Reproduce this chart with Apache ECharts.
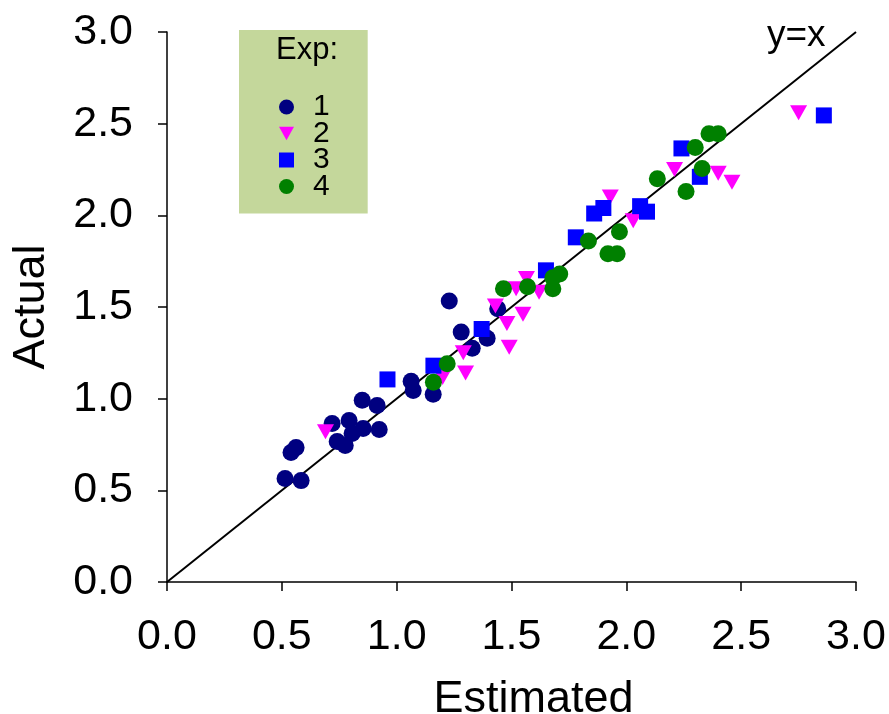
<!DOCTYPE html>
<html>
<head>
<meta charset="utf-8">
<title>Actual vs Estimated</title>
<script src="https://cdn.jsdelivr.net/npm/echarts@6/dist/echarts.min.js"></script>
<style>
  html, body { margin: 0; padding: 0; background: #fff; }
  #chart { width: 889px; height: 714px; }
</style>
</head>
<body>
<div id="chart"></div>
<script>
// data: [estimated, actual]
var exp1 = [
  [0.514, 0.564], [0.584, 0.553], [0.540, 0.706], [0.562, 0.733], [0.719, 0.865],
  [0.793, 0.881], [0.741, 0.766], [0.776, 0.744], [0.806, 0.810], [0.850, 0.991],
  [0.915, 0.963], [0.854, 0.837], [0.924, 0.832], [1.063, 1.095], [1.072, 1.045],
  [1.159, 1.024], [1.229, 1.533], [1.281, 1.363], [1.329, 1.275], [1.394, 1.330],
  [1.440, 1.490]
];
var exp2 = [
  [0.690, 0.820], [1.200, 1.115], [1.290, 1.250], [1.300, 1.140], [1.430, 1.505],
  [1.480, 1.410], [1.550, 1.460], [1.490, 1.280], [1.565, 1.655], [1.520, 1.600],
  [1.620, 1.580], [1.930, 2.100], [2.030, 1.970], [2.210, 2.250], [2.400, 2.230],
  [2.460, 2.180], [2.750, 2.560]
];
var exp3 = [
  [0.960, 1.105], [1.160, 1.180], [1.370, 1.380], [1.650, 1.700], [1.780, 1.880],
  [1.860, 2.010], [1.900, 2.040], [2.060, 2.050], [2.090, 2.020], [2.240, 2.365],
  [2.320, 2.210], [2.860, 2.545]
];
var exp4 = [
  [1.160, 1.090], [1.220, 1.190], [1.465, 1.600], [1.570, 1.610], [1.680, 1.660],
  [1.710, 1.680], [1.680, 1.600], [1.835, 1.860], [1.920, 1.790], [1.960, 1.790],
  [1.970, 1.910], [2.135, 2.200], [2.260, 2.130], [2.300, 2.370], [2.330, 2.255],
  [2.360, 2.445], [2.400, 2.445]
];
var identityLine = [[0, 0], [3, 3]];
var tickValues = [0, 0.5, 1.0, 1.5, 2.0, 2.5, 3.0];

var font = 'Liberation Sans, Arial, sans-serif';
var downTriangle = 'path://M0,0 L10,0 L5,9 Z';

var myChart = echarts.init(document.getElementById('chart'));

function axisCommon(name, nameGap, margin, namePad) {
  return {
    type: 'value',
    min: tickValues[0],
    max: tickValues[tickValues.length - 1],
    interval: 0.5,
    name: name,
    nameLocation: 'middle',
    nameGap: nameGap,
    nameTextStyle: { color: '#000', fontSize: 45, fontFamily: font, padding: namePad },
    axisLine: { show: true, lineStyle: { color: '#000', width: 1.5 } },
    axisTick: { show: true, inside: false, length: 9, lineStyle: { color: '#000', width: 1.5 } },
    axisLabel: {
      color: '#000', fontSize: 43, fontFamily: font, margin: margin,
      formatter: function (v) { return v.toFixed(1); }
    },
    splitLine: { show: false }
  };
}

myChart.setOption({
  animation: false,
  backgroundColor: '#fff',
  grid: { left: 167, right: 33, top: 32, bottom: 132, outerBoundsMode: 'none' },
  title: {
    text: 'Exp:',
    left: 271,
    top: 30,
    textStyle: { color: '#000', fontSize: 31, fontWeight: 'normal', fontFamily: font }
  },
  legend: {
    data: ['1', '2', '3', '4'],
    orient: 'vertical',
    left: 239,
    top: 30,
    backgroundColor: '#c4d79b',
    padding: [62, 38, 12, 40],
    itemWidth: 15,
    itemHeight: 15,
    itemGap: -3.5,
    textStyle: { color: '#000', fontSize: 30, fontFamily: font, padding: [0, 0, 0, 14] }
  },
  xAxis: axisCommon('Estimated', 95, 34, [0, 0, 0, 44]),
  yAxis: axisCommon('Actual', 113, 34, 0),
  series: [
    {
      name: 'y=x',
      type: 'line',
      data: identityLine,
      symbol: 'none',
      lineStyle: { color: '#000', width: 2 },
      z: 1,
      label: { show: false },
      endLabel: {
        show: true,
        formatter: 'y=x',
        color: '#000',
        fontSize: 37,
        fontFamily: font,
        offset: [-97, 4]
      }
    },
    {
      name: '1', type: 'scatter', data: exp1, symbol: 'circle', symbolSize: 17,
      itemStyle: { color: '#000080', opacity: 1 }
    },
    {
      name: '2', type: 'scatter', data: exp2, symbol: downTriangle, symbolSize: [17, 15],
      itemStyle: { color: '#ff00ff', opacity: 1 }
    },
    {
      name: '3', type: 'scatter', data: exp3, symbol: 'rect', symbolSize: 16,
      itemStyle: { color: '#0000ff', opacity: 1 }
    },
    {
      name: '4', type: 'scatter', data: exp4, symbol: 'circle', symbolSize: 17,
      itemStyle: { color: '#008000', opacity: 1 }
    }
  ]
});
</script>
</body>
</html>
